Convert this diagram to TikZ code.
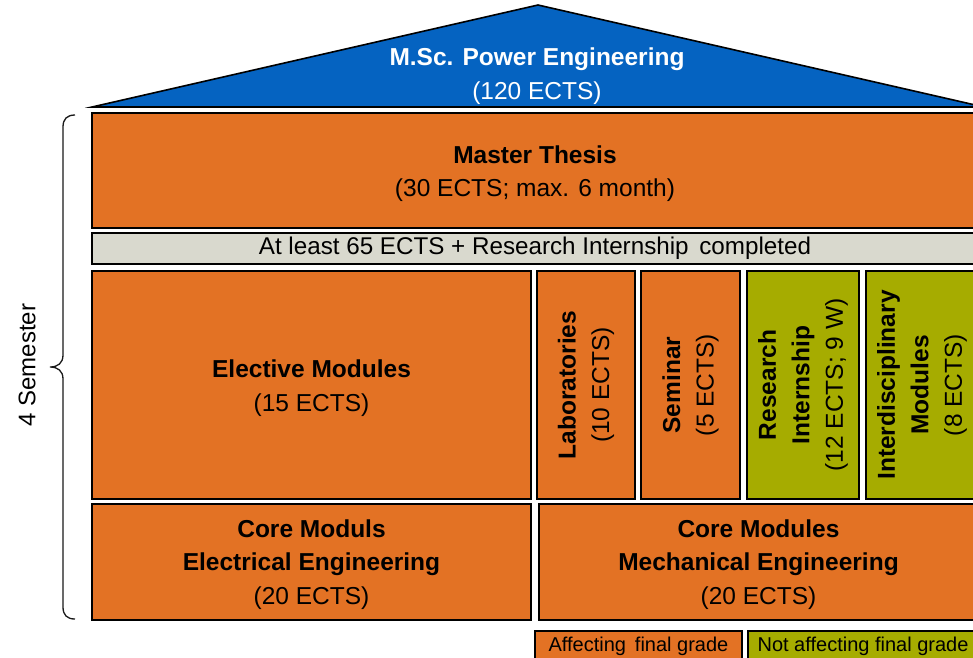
\documentclass[tikz,border=0pt]{standalone}
\usepackage{fontspec}
\setmainfont{Liberation Sans}
\definecolor{boxorange}{RGB}{227,114,36}
\definecolor{roofblue}{RGB}{5,99,193}
\definecolor{boxgreen}{RGB}{166,172,0}
\definecolor{gategray}{RGB}{217,217,206}
\begin{document}
\begin{tikzpicture}[x=1pt,y=-1pt,
  box/.style={draw=black, line width=1.6pt, rectangle, inner sep=0pt, align=center,
    font=\fontsize{24.5}{33.5}\selectfont},
  orangebox/.style={box, fill=boxorange},
  greenbox/.style={box, fill=boxgreen},
  vbox/.style={rotate=90},
  legendbox/.style={box, font=\fontsize{20}{24}\selectfont}
]
\useasboundingbox (0,0) rectangle (973,657);
\clip (0,0) rectangle (973,657);

% roof
\draw[fill=roofblue, line width=1.6pt, line join=miter] (92,107) -- (538,5) -- (984,107) -- cycle;
\node[text=white, align=center, font=\fontsize{24.5}{34}\selectfont] (rooftext) at (537,76)
  {\textbf{M.Sc. Power Engineering}\\(120 ECTS)};

% master thesis
\node[orangebox, minimum width=886, minimum height=115] (master) at (535,170.5)
  {\rule{0pt}{24pt}\textbf{Master Thesis}\\(30 ECTS; max. 6 month)};

% gate bar
\node[box, fill=gategray, minimum width=886, minimum height=31, font=\fontsize{24.2}{28}\selectfont] (gate) at (535,248.5)
  {\rule[-2pt]{0pt}{20pt}At least 65 ECTS + Research Internship\ \,completed};

% middle row
\node[orangebox, minimum width=439, minimum height=228] (elective) at (311.5,385)
  {\rule{0pt}{24pt}\textbf{Elective Modules}\\(15 ECTS)};
\node[orangebox, vbox, minimum width=228, minimum height=98] (lab) at (586,385)
  {\textbf{Laboratories}\\(10 ECTS)};
\node[orangebox, vbox, minimum width=228, minimum height=99] (seminar) at (690.5,385)
  {\textbf{Seminar}\\(5 ECTS)};
\node[greenbox, vbox, minimum width=228, minimum height=112] (intern) at (803,385)
  {\textbf{Research}\\\textbf{Internship}\\(12 ECTS; 9 W)};
\node[greenbox, vbox, minimum width=228, minimum height=112] (inter) at (922,385)
  {\textbf{Interdisciplinary}\\\textbf{Modules}\\(8 ECTS)};

% core row
\node[orangebox, minimum width=439, minimum height=116] (coreEE) at (311.5,562)
  {\rule{0pt}{23pt}\textbf{Core Moduls}\\\textbf{Electrical Engineering}\\(20 ECTS)};
\node[orangebox, minimum width=439, minimum height=116] (coreME) at (758.5,562)
  {\rule{0pt}{23pt}\textbf{Core Modules}\\\textbf{Mechanical Engineering}\\(20 ECTS)};

% legend
\node[legendbox, fill=boxorange, minimum width=207, minimum height=30] (legA) at (638.5,646)
  {Affecting\ \,final grade};
\node[legendbox, fill=boxgreen, minimum width=230, minimum height=30] (legB) at (863,646)
  {Not affecting final grade};

% brace
\draw[line width=1.3pt, draw=black!90] (75,115) .. controls (67,115) and (63,119) .. (63,127)
  -- (63,355) .. controls (63,363) and (58,367) .. (50,367)
  .. controls (58,367) and (63,371) .. (63,379)
  -- (63,607) .. controls (63,615) and (67,619) .. (75,619);
\node[rotate=90, font=\fontsize{24}{28}\selectfont] (semesters) at (27,365) {4 Semester};
\end{tikzpicture}
\end{document}
